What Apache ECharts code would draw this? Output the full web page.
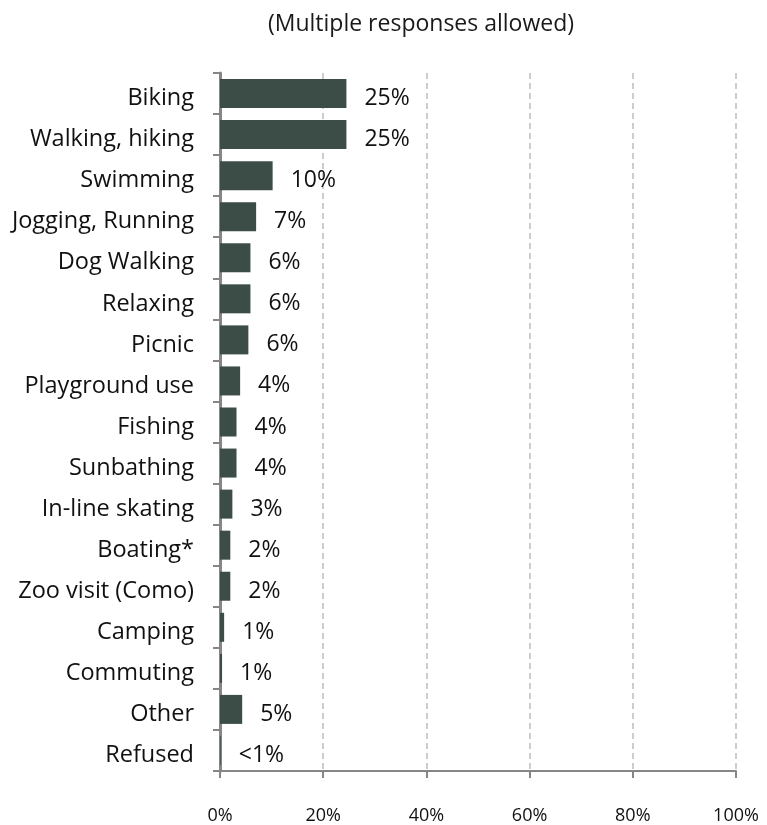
<!DOCTYPE html>
<html>
<head>
<meta charset="utf-8">
<script src="https://cdn.jsdelivr.net/npm/echarts@6/dist/echarts.min.js"></script>
<style>
html,body{margin:0;padding:0;background:#fff;}
#chart{width:767px;height:825px;}
</style>
</head>
<body>
<div id="chart"></div>
<script>
var categories = ["Biking","Walking, hiking","Swimming","Jogging, Running","Dog Walking","Relaxing","Picnic","Playground use","Fishing","Sunbathing","In-line skating","Boating*","Zoo visit (Como)","Camping","Commuting","Other","Refused"];
var values = [24.5, 24.5, 10.2, 7.0, 5.9, 5.9, 5.5, 3.9, 3.2, 3.2, 2.4, 2.0, 2.0, 0.8, 0.4, 4.3, 0.15];
var valueLabels = ["25%","25%","10%","7%","6%","6%","6%","4%","4%","4%","3%","2%","2%","1%","1%","5%","<1%"];
var xTicks = [0, 20, 40, 60, 80, 100];

var FONT = "'Open Sans', sans-serif";
var chart = echarts.init(document.getElementById('chart'));
chart.setOption({
  animation: false,
  backgroundColor: '#ffffff',
  title: {
    text: '(Multiple responses allowed)',
    left: 416, top: 8, textAlign: 'center',
    textStyle: {fontFamily: FONT, fontSize: 23, fontWeight: 'normal', color: '#1a1a1a'}
  },
  grid: {left: 220, right: 31, top: 73, bottom: 47, containLabel: false},
  xAxis: {
    type: 'value', min: xTicks[0], max: xTicks[xTicks.length-1], interval: 20,
    axisLine: {show: true, lineStyle: {color: '#868686', width: 2}},
    axisTick: {show: true, length: 7, lineStyle: {color: '#868686', width: 2}},
    splitLine: {show: true, lineStyle: {color: '#bdbdbd', type: [6, 4], width: 1.5}},
    axisLabel: {formatter: '{value}%', margin: 36, fontFamily: FONT, fontSize: 18, color: '#111'}
  },
  yAxis: {
    type: 'category', data: categories, inverse: true,
    axisLine: {show: true, lineStyle: {color: '#868686', width: 3}},
    axisTick: {show: true, length: 7, lineStyle: {color: '#868686', width: 2}},
    axisLabel: {margin: 26, fontFamily: FONT, fontSize: 23.5, color: '#111', verticalAlign: 'top', lineHeight: 10}
  },
  series: [{
    type: 'bar', data: values, barWidth: 29,
    itemStyle: {color: '#3c4d48'},
    label: {
      show: true, position: 'right', distance: 18, offset: [0, 5],
      fontFamily: FONT, fontSize: 23, color: '#111',
      formatter: function (p) { return valueLabels[p.dataIndex]; }
    }
  }]
});
</script>
</body>
</html>
